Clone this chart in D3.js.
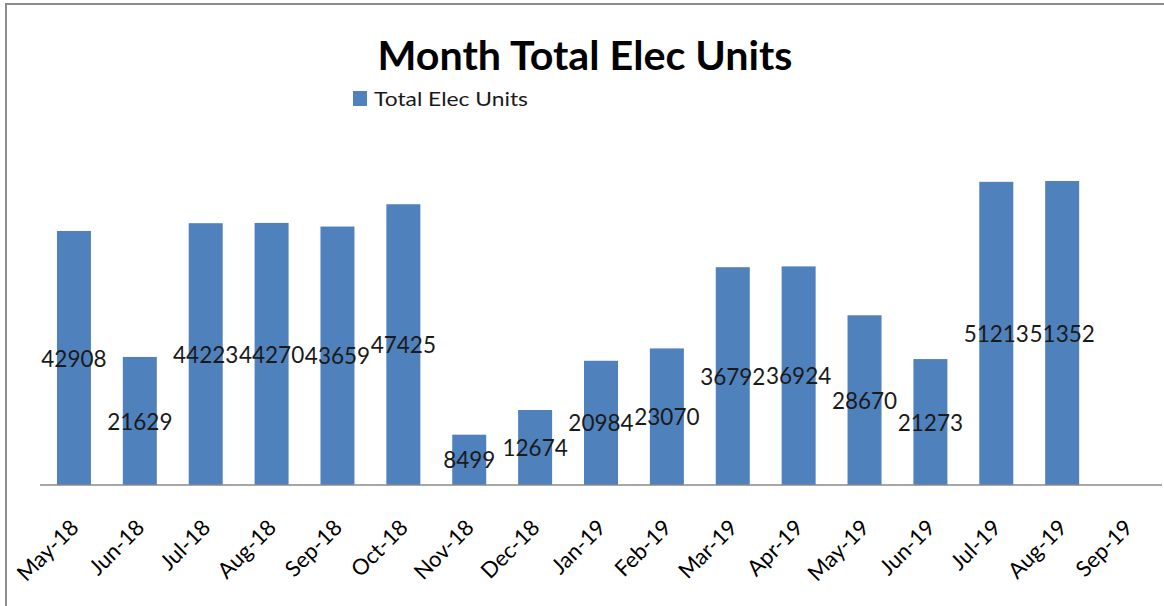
<!DOCTYPE html>
<html>
<head>
<meta charset="utf-8">
<script src="https://cdn.jsdelivr.net/npm/d3@7"></script>
<style>
  body { margin: 0; background: #fff; }
  svg { display: block; font-family: Lato, "Open Sans", sans-serif; }
</style>
</head>
<body>
<svg id="chart" width="1164" height="606"></svg>
<script>
var months = ["May-18", "Jun-18", "Jul-18", "Aug-18", "Sep-18", "Oct-18", "Nov-18", "Dec-18",
  "Jan-19", "Feb-19", "Mar-19", "Apr-19", "May-19", "Jun-19", "Jul-19", "Aug-19", "Sep-19"];
var units = [42908, 21629, 44223, 44270, 43659, 47425, 8499, 12674,
  20984, 23070, 36792, 36924, 28670, 21273, 51213, 51352, null];
var seriesName = "Total Elec Units";
var chartTitle = "Month Total Elec Units";

var svg = d3.select("#chart");
var barColor = "#4f81bd";

// outer frame (only left + top edges are in view)
svg.append("path")
  .attr("d", "M6,606 V4 H1164")
  .attr("fill", "none")
  .attr("stroke", "#8c8c8c")
  .attr("stroke-width", 2);

var xScale = d3.scaleBand().domain(months).range([41, 1161]).paddingInner(0.484).paddingOuter(0.242);
var yScale = d3.scaleLinear().domain([0, 60000]).range([485, 129.8]);

var data = months.map(function(m, i) { return { month: m, value: units[i] }; });
var withValue = data.filter(function(d) { return d.value != null; });

svg.append("g").selectAll("rect")
  .data(withValue)
  .join("rect")
  .attr("x", function(d) { return xScale(d.month); })
  .attr("width", xScale.bandwidth())
  .attr("y", function(d) { return yScale(d.value); })
  .attr("height", function(d) { return yScale(0) - yScale(d.value); })
  .attr("fill", barColor);

var xAxis = d3.axisBottom(xScale).tickSize(0).tickSizeOuter(0);
var gx = svg.append("g").attr("transform", "translate(0," + yScale(0) + ")").call(xAxis);
gx.select(".domain").attr("stroke", "#8a8a8a").attr("stroke-width", 1.5).attr("d", "M40,0H1162");
gx.selectAll("text")
  .attr("x", 0).attr("y", 0).attr("dy", null)
  .attr("transform", "translate(6,44) rotate(-45)")
  .attr("text-anchor", "end")
  .attr("fill", "#000")
  .style("font-size", "22px")
  .style("font-family", "Lato, sans-serif");

// value labels sit in the middle of each bar
svg.append("g").selectAll("text")
  .data(withValue)
  .join("text")
  .attr("x", function(d) { return xScale(d.month) + xScale.bandwidth() / 2; })
  .attr("y", function(d) { return (yScale(d.value) + yScale(0)) / 2; })
  .attr("dy", "0.38em")
  .attr("text-anchor", "middle")
  .attr("fill", "#1a1a1a")
  .style("font-size", "22.5px")
  .text(function(d) { return d.value; });

svg.append("text")
  .attr("x", 585).attr("y", 70)
  .attr("text-anchor", "middle")
  .attr("textLength", 415)
  .attr("lengthAdjust", "spacingAndGlyphs")
  .style("font-size", "41px")
  .style("font-weight", "bold")
  .text(chartTitle);

var legend = svg.append("g").attr("transform", "translate(353,91)");
legend.append("rect").attr("width", 14).attr("height", 15).attr("fill", barColor);
legend.append("text")
  .attr("x", 21).attr("y", 15)
  .attr("textLength", 154)
  .attr("lengthAdjust", "spacingAndGlyphs")
  .style("font-size", "20px")
  .attr("fill", "#1a1a1a")
  .text(seriesName);
</script>
</body>
</html>
